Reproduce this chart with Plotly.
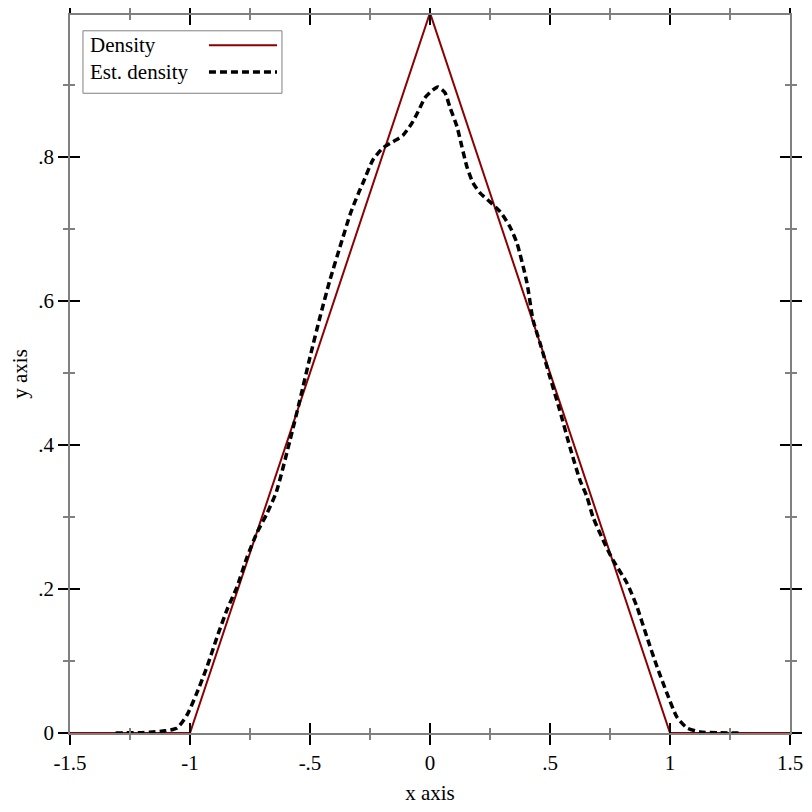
import plotly.graph_objects as go

# --- data ---
density_x = [-1.5, -1.0, 0.0, 1.0, 1.5]
density_y = [0.0, 0.0, 1.0, 0.0, 0.0]

est_x = [-1.31, -1.2, -1.167, -1.104, -1.054, -1.0125, -0.971, -0.929, -0.8875, -0.846,
         -0.804, -0.7625, -0.721, -0.679, -0.64, -0.583, -0.542, -0.5, -0.458, -0.417,
         -0.375, -0.333, -0.3, -0.279, -0.2375, -0.196, -0.154, -0.1125, -0.075, -0.05,
         -0.021, 0.0125, 0.033, 0.0625, 0.083, 0.1125, 0.133, 0.154, 0.179, 0.208,
         0.25, 0.292, 0.333, 0.3625, 0.404, 0.429, 0.458, 0.5, 0.54, 0.583,
         0.625, 0.654, 0.679, 0.721, 0.7625, 0.821, 0.8625, 0.904, 0.946, 0.9875,
         1.029, 1.071, 1.125, 1.2, 1.3]
est_y = [0.0, 0.0005, 0.001, 0.003, 0.007, 0.025, 0.056, 0.092, 0.133, 0.171,
         0.203, 0.244, 0.278, 0.305, 0.335, 0.407, 0.4625, 0.522, 0.578, 0.629,
         0.675, 0.72, 0.748, 0.764, 0.796, 0.8125, 0.821, 0.83, 0.847, 0.8625,
         0.882, 0.893, 0.897, 0.889, 0.869, 0.842, 0.814, 0.786, 0.764, 0.75,
         0.7375, 0.724, 0.703, 0.68, 0.625, 0.574, 0.542, 0.494, 0.449, 0.397,
         0.351, 0.328, 0.3, 0.268, 0.240, 0.208, 0.175, 0.133, 0.092, 0.055,
         0.022, 0.007, 0.0015, 0.0003, 0.0]

x_tick_vals = [-1.5, -1.0, -0.5, 0.0, 0.5, 1.0, 1.5]
x_tick_text = ["-1.5", "-1", "-.5", "0", ".5", "1", "1.5"]
x_minor_vals = [-1.25, -0.75, -0.25, 0.25, 0.75, 1.25]
y_tick_vals = [0.0, 0.2, 0.4, 0.6, 0.8]
y_tick_text = ["0", ".2", ".4", ".6", ".8"]
y_minor_vals = [0.1, 0.3, 0.5, 0.7, 0.9]

x_range = [-1.5, 1.5]
y_range = [0.0, 0.997]

FONT = "Liberation Serif"
AXIS_GRAY = "#808080"
RED = "#8b0000"
DASH = "7px,4px"
FS = 21

fig = go.Figure()
fig.add_trace(go.Scatter(x=density_x, y=density_y, mode="lines",
                         line=dict(color=RED, width=2), showlegend=False,
                         hoverinfo="skip"))
fig.add_trace(go.Scatter(x=est_x, y=est_y, mode="lines",
                         line=dict(color="black", width=3.5, dash=DASH,
                                   shape="spline", smoothing=0.6),
                         showlegend=False, hoverinfo="skip"))
# dummy trace to create overlay axes for inside ticks
fig.add_trace(go.Scatter(x=[], y=[], xaxis="x2", yaxis="y2", showlegend=False))

common_x = dict(range=x_range, tickvals=x_tick_vals, showgrid=False, zeroline=False,
                ticklen=10, tickwidth=2, tickcolor="black", mirror="allticks",
                minor=dict(tickvals=x_minor_vals, ticklen=5, tickwidth=1.5,
                           tickcolor=AXIS_GRAY))
common_y = dict(range=y_range, tickvals=y_tick_vals, showgrid=False, zeroline=False,
                ticklen=10, tickwidth=2, tickcolor="black", mirror="allticks",
                minor=dict(tickvals=y_minor_vals, ticklen=5, tickwidth=1.5,
                           tickcolor=AXIS_GRAY))

# page body has an 8px margin, so the figure is 804 px and shifted by 8
fig.update_layout(
    width=804, height=804,
    margin=dict(l=62, r=22, t=7, b=79, autoexpand=False),
    paper_bgcolor="white", plot_bgcolor="white",
    font=dict(family=FONT, size=FS, color="black"),
    showlegend=False,
    xaxis=dict(**common_x, ticks="outside", ticktext=x_tick_text,
               minor_ticks="outside",
               showline=True, linecolor=AXIS_GRAY, linewidth=1.5,
               title=dict(text="x axis", standoff=11, font=dict(size=FS))),
    yaxis=dict(**common_y, ticks="outside", ticktext=y_tick_text,
               minor_ticks="outside",
               showline=True, linecolor=AXIS_GRAY, linewidth=1.5,
               title=dict(text="y axis", standoff=16, font=dict(size=FS))),
    xaxis2=dict(**common_x, ticks="inside", minor_ticks="inside",
                showticklabels=False, showline=False,
                overlaying="x", anchor="y2"),
    yaxis2=dict(**common_y, ticks="inside", minor_ticks="inside",
                showticklabels=False, showline=False,
                overlaying="y", anchor="x2"),
)

# custom legend (symbols on the right, like the reference)
fig.add_shape(type="rect", xref="paper", yref="paper", x0=0.018, x1=0.2944,
              y0=0.891, y1=0.978, line=dict(color=AXIS_GRAY, width=1),
              fillcolor="white", layer="above")
fig.add_annotation(x=0.025, y=0.958, xref="paper", yref="paper", text="Density",
                   showarrow=False, xanchor="left", yanchor="middle",
                   font=dict(family=FONT, size=FS))
fig.add_annotation(x=0.025, y=0.9206, xref="paper", yref="paper", text="Est. density",
                   showarrow=False, xanchor="left", yanchor="middle",
                   font=dict(family=FONT, size=FS))
fig.add_shape(type="line", xref="paper", yref="paper", x0=0.193, x1=0.2875,
              y0=0.958, y1=0.958, line=dict(color=RED, width=2), layer="above")
fig.add_shape(type="line", xref="paper", yref="paper", x0=0.193, x1=0.2875,
              y0=0.9206, y1=0.9206, line=dict(color="black", width=3.5, dash=DASH),
              layer="above")

fig.write_html("out.html")
